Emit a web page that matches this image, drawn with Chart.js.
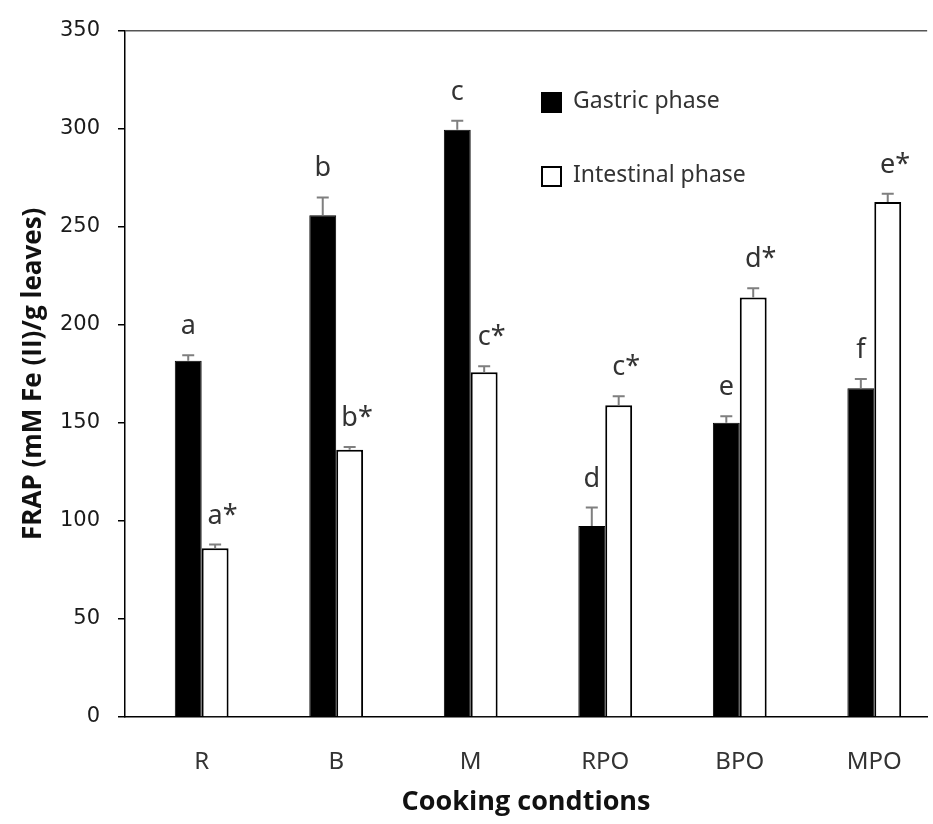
<!DOCTYPE html>
<html>
<head>
<meta charset="utf-8">
<script src="https://cdn.jsdelivr.net/npm/chart.js@4.4.1/dist/chart.umd.min.js"></script>
<style>
  html, body { margin: 0; padding: 0; background: #fff; overflow: hidden; }
  #canvas { display: block; }
</style>
</head>
<body>
<canvas id="canvas" width="933" height="824"></canvas>
<script>
// values
var categories = ['R', 'B', 'M', 'RPO', 'BPO', 'MPO'];
var gastricData = [181.7, 255.9, 299.5, 97.4, 150.0, 167.6];
var gastricErr = [2.7, 9.0, 4.5, 9.4, 3.4, 4.8];
var gastricLetters = ['a', 'b', 'c', 'd', 'e', 'f'];
var intestinalData = [86.0, 136.3, 175.8, 159.0, 213.9, 262.6];
var intestinalErr = [1.9, 1.4, 3.0, 4.6, 4.7, 4.2];
var intestinalLetters = ['a*', 'b*', 'c*', 'c*', 'd*', 'e*'];
var yTicks = [0, 50, 100, 150, 200, 250, 300, 350];

function toPoints(values) {
    return values.map((v, i) => ({x: i, y: v}));
}

// error bars + significance letters
const annotations = {
    id: 'annotations',
    afterDatasetsDraw(chart) {
        const ctx = chart.ctx;
        const yScale = chart.scales.y;
        const errs = [gastricErr, intestinalErr];
        const letters = [gastricLetters, intestinalLetters];
        chart.data.datasets.forEach((ds, d) => {
            const meta = chart.getDatasetMeta(d);
            meta.data.forEach((bar, i) => {
                const top = yScale.getPixelForValue(ds.data[i].y + errs[d][i]);
                ctx.save();
                ctx.strokeStyle = '#7f7f7f';
                ctx.lineWidth = 2;
                ctx.beginPath();
                ctx.moveTo(bar.x, bar.y);
                ctx.lineTo(bar.x, top);
                ctx.moveTo(bar.x - 6, top);
                ctx.lineTo(bar.x + 6, top);
                ctx.stroke();

                const txt = letters[d][i];
                const base = txt.charAt(0);
                ctx.font = '27px "Noto Sans", sans-serif';
                ctx.fillStyle = '#333';
                ctx.textBaseline = 'alphabetic';
                ctx.textAlign = 'center';
                ctx.fillText(base, bar.x, top - 21);
                if (txt.length > 1) {
                    const w = ctx.measureText(base).width;
                    ctx.textAlign = 'left';
                    ctx.fillText('*', bar.x + w / 2, top - 21);
                }
                ctx.restore();
            });
        });
    }
};

// legend drawn inside the plot
const boxLegend = {
    id: 'boxLegend',
    afterDraw(chart) {
        const ctx = chart.ctx;
        const rows = [{y: 92}, {y: 166}];
        ctx.save();
        chart.data.datasets.forEach((ds, d) => {
            const y = rows[d].y;
            ctx.fillStyle = ds.backgroundColor;
            ctx.fillRect(541, y, 21, 21);
            ctx.strokeStyle = '#000';
            ctx.lineWidth = 2;
            ctx.strokeRect(542, y + 1, 19, 19);
            ctx.fillStyle = '#333';
            ctx.font = '23px "Noto Sans", sans-serif';
            ctx.textAlign = 'left';
            ctx.textBaseline = 'middle';
            ctx.fillText(ds.label, 573, y + 9);
        });
        ctx.restore();
    }
};

const canvas = document.getElementById('canvas');
const data = {
    datasets: [
        {
            label: 'Gastric phase',
            data: toPoints(gastricData),
            backgroundColor: '#000000',
            borderColor: '#000000',
            borderWidth: 1
        },
        {
            label: 'Intestinal phase',
            data: toPoints(intestinalData),
            backgroundColor: '#ffffff',
            borderColor: '#000000',
            borderWidth: 2
        }
    ]
};
const options = {
    responsive: false,
    animation: false,
    layout: {padding: {top: 28, right: 3, left: 0, bottom: 0}},
    datasets: {bar: {categoryPercentage: 0.4, barPercentage: 1.0}},
    plugins: {legend: {display: false}, tooltip: {enabled: false}},
    scales: {
        x: {
            type: 'linear',
            min: -0.57,
            max: 5.393,
            offset: false,
            afterFit: s => { s.height = 107; },
            grid: {display: false, drawTicks: false, offset: false},
            border: {display: true, color: '#000', width: 1.5},
            ticks: {
                stepSize: 1,
                includeBounds: false,
                autoSkip: false,
                maxRotation: 0,
                padding: 31,
                color: '#333',
                font: {family: '"Noto Sans", sans-serif', size: 24},
                callback: v => Number.isInteger(v) ? categories[v] : ''
            },
            title: {
                display: true,
                text: 'Cooking condtions',
                color: '#111',
                font: {family: '"Open Sans", "Noto Sans", sans-serif', size: 27, weight: 'bold'},
                padding: {top: 0, bottom: 5}
            }
        },
        y: {
            min: 0,
            max: 350,
            afterFit: s => { s.width = 125; },
            afterBuildTicks: s => { s.ticks = yTicks.map(v => ({value: v})); },
            grid: {
                color: c => (c.tick && c.tick.value === 350) ? '#555' : 'rgba(0,0,0,0)',
                tickColor: '#000',
                tickLength: 7,
                lineWidth: 1.5
            },
            border: {display: true, color: '#000', width: 1.5},
            ticks: {
                padding: 18,
                color: '#1a1a1a',
                font: {family: '"DejaVu Sans", sans-serif', size: 21}
            },
            title: {
                display: true,
                text: 'FRAP (mM Fe (II)/g leaves)',
                color: '#111',
                font: {family: '"Open Sans", "Noto Sans", sans-serif', size: 26, weight: 'bold'},
                padding: {top: 18, bottom: 0}
            }
        }
    }
};
const chart = new Chart(canvas, {
    type: 'bar',
    data: data,
    options: options,
    plugins: [annotations, boxLegend]
});
</script>
</body>
</html>
